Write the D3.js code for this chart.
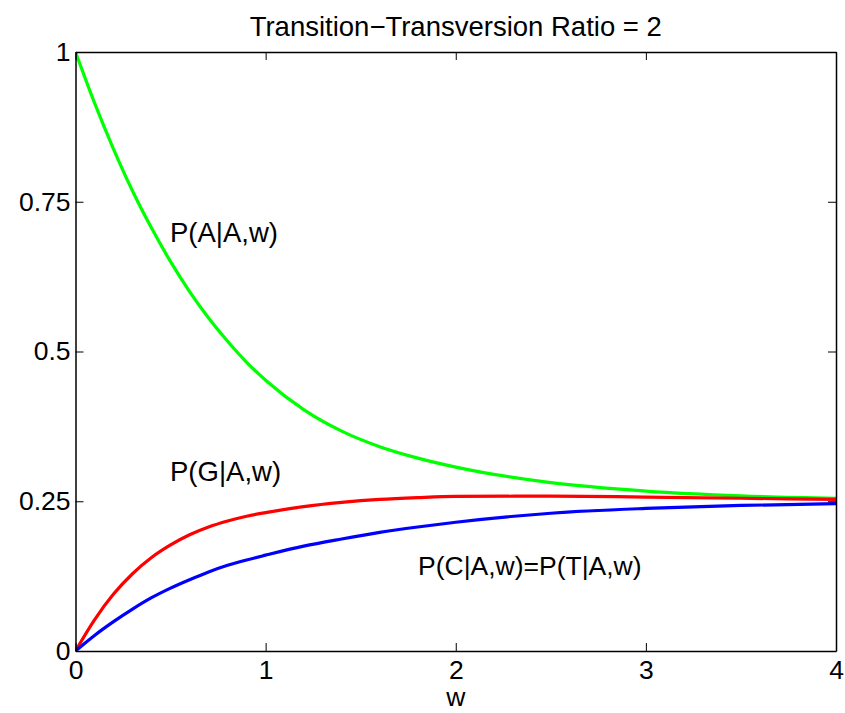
<!DOCTYPE html>
<html>
<head>
<meta charset="utf-8">
<script src="https://cdn.jsdelivr.net/npm/d3@7"></script>
<style>
  body { margin: 0; background: #fff; }
  svg text { font-family: "Liberation Sans", Arial, sans-serif; fill: #000; }
</style>
</head>
<body>
<div id="container"></div>
<script>
// values
const wValues = [0, 0.1, 0.2, 0.3, 0.4, 0.5, 0.6, 0.7, 0.8, 0.9, 1.0, 1.2, 1.4, 1.6, 1.8, 2.0, 2.5, 3.0, 3.5, 4.0];
const pSame = [1.0, 0.915, 0.838, 0.768, 0.706, 0.65, 0.6, 0.556, 0.517, 0.482, 0.452, 0.403, 0.367, 0.341, 0.322, 0.307, 0.281, 0.267, 0.259, 0.255];
const pTransition = [0, 0.052, 0.095, 0.129, 0.156, 0.177, 0.194, 0.207, 0.217, 0.225, 0.231, 0.241, 0.248, 0.253, 0.256, 0.258, 0.2585, 0.257, 0.255, 0.253];
const pTransversion = [0, 0.026, 0.049, 0.07, 0.089, 0.105, 0.119, 0.132, 0.143, 0.152, 0.16, 0.175, 0.187, 0.198, 0.207, 0.215, 0.23, 0.238, 0.243, 0.246];

const xTicks = [0, 1, 2, 3, 4];
const xTickLabels = ['0', '1', '2', '3', '4'];
const yTicks = [0, 0.25, 0.5, 0.75, 1];
const yTickLabels = ['0', '0.25', '0.5', '0.75', '1'];

const width = 845, height = 713;
const margin = {left: 75.5, right: 9, top: 52, bottom: 62};
const fontSize = '26.5px';
const labelSize = '27.5px';

const svg = d3.select('#container').append('svg')
  .attr('width', width)
  .attr('height', height);

const x = d3.scaleLinear().domain([0, 4]).range([margin.left, width - margin.right]);
const y = d3.scaleLinear().domain([0, 1]).range([height - margin.bottom, margin.top]);

const series = [
  {vals: pSame, color: '#00ff00'},
  {vals: pTransition, color: '#ff0000'},
  {vals: pTransversion, color: '#0000ff'}
];

const line = d3.line()
  .x((d, i) => x(wValues[i]))
  .y(d => y(d))
  .curve(d3.curveMonotoneX);

svg.append('defs').append('clipPath').attr('id', 'clip')
  .append('rect')
  .attr('x', margin.left).attr('y', margin.top - 2)
  .attr('width', x(4) - margin.left + 2).attr('height', y(0) - margin.top + 2);

svg.append('g').attr('clip-path', 'url(#clip)')
  .selectAll('path')
  .data(series)
  .enter()
  .append('path')
  .attr('d', d => line(d.vals))
  .attr('fill', 'none')
  .attr('stroke', d => d.color)
  .attr('stroke-width', 3.2);

// axes, MATLAB style: box with inward ticks
const tickLen = 8;
const bottomAxis = d3.axisBottom(x).tickValues(xTicks).tickSizeInner(-tickLen).tickSizeOuter(0).tickPadding(9)
  .tickFormat((d, i) => xTickLabels[i]);
const topAxis = d3.axisTop(x).tickValues(xTicks).tickSizeInner(-tickLen).tickSizeOuter(0).tickFormat('');
const leftAxis = d3.axisLeft(y).tickValues(yTicks).tickSizeInner(-tickLen).tickSizeOuter(0).tickPadding(5)
  .tickFormat((d, i) => yTickLabels[i]);
const rightAxis = d3.axisRight(y).tickValues(yTicks).tickSizeInner(-tickLen).tickSizeOuter(0).tickFormat('');

const gb = svg.append('g').attr('transform', `translate(0,${y(0)})`).call(bottomAxis);
const gt = svg.append('g').attr('transform', `translate(0,${y(1)})`).call(topAxis);
const gl = svg.append('g').attr('transform', `translate(${x(0)},0)`).call(leftAxis);
const gr = svg.append('g').attr('transform', `translate(${x(4)},0)`).call(rightAxis);

[gb, gt, gl, gr].forEach(g => {
  g.selectAll('.domain').attr('stroke', '#000').attr('stroke-width', 1.5);
  g.selectAll('.tick line').attr('stroke', '#000').attr('stroke-width', 1);
  g.selectAll('text').style('font-size', fontSize).style('font-family', '"Liberation Sans", Arial, sans-serif');
});

// title and labels
svg.append('text')
  .attr('x', (x(0) + x(4)) / 2)
  .attr('y', 36)
  .attr('text-anchor', 'middle')
  .style('font-size', labelSize)
  .text('Transition\u2212Transversion Ratio = 2');

svg.append('text')
  .attr('x', (x(0) + x(4)) / 2)
  .attr('y', 706)
  .attr('text-anchor', 'middle')
  .style('font-size', fontSize)
  .text('w');

svg.append('text').attr('x', 170).attr('y', 242).style('font-size', labelSize).text('P(A|A,w)');
svg.append('text').attr('x', 170).attr('y', 481).style('font-size', labelSize).text('P(G|A,w)');
svg.append('text').attr('x', 418).attr('y', 575).style('font-size', fontSize).text('P(C|A,w)=P(T|A,w)');
</script>
</body>
</html>
